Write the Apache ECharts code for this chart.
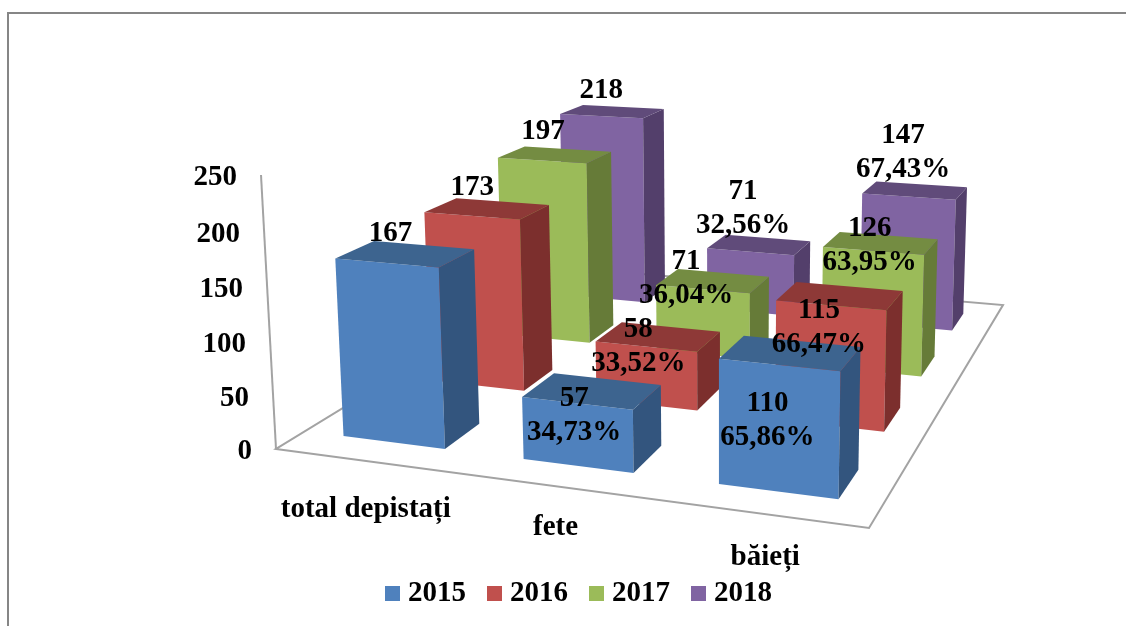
<!DOCTYPE html>
<html>
<head>
<meta charset="utf-8">
<style>
  html, body { margin: 0; padding: 0; background: #fff; }
  #plot { width: 1126px; height: 626px; }
</style>
<script src="https://cdn.jsdelivr.net/npm/echarts@6/dist/echarts.min.js"></script>
</head>
<body>
<div id="plot"></div>
<script>
const categories = ["total depistați", "fete", "băieți"];
const years = ["2015", "2016", "2017", "2018"];
const yTicks = [0, 50, 100, 150, 200, 250];

const values2015 = [167, 57, 110];
const values2016 = [173, 58, 115];
const values2017 = [197, 71, 126];
const values2018 = [218, 71, 147];

const percents2015 = ["", "34,73%", "65,86%"];
const percents2016 = ["", "33,52%", "66,47%"];
const percents2017 = ["", "36,04%", "63,95%"];
const percents2018 = ["", "32,56%", "67,43%"];

const allValues = [values2015, values2016, values2017, values2018];
const allPercents = [percents2015, percents2016, percents2017, percents2018];

// front, top and side colour of each year
const faces = [
  ["#4f81bd", "#3d648f", "#33557e"],
  ["#c0504d", "#8e3937", "#7c2f2d"],
  ["#9bbb59", "#748c42", "#667b38"],
  ["#8064a2", "#604b7a", "#533f6b"]
];

// label centre relative to the centre of the bar top, [year][category]
const labelNudge = [
  [[-15, -20], [-18, 25], [-23, 68]],
  [[-15, -21], [-20, 10], [-21, 32]],
  [[-12, -23], [-27, -2], [-11, 2]],
  [[-11, -21], [-16, -36], [-12, -38]]
];
// category name relative to the floor edge under its cell
const categoryNudge = [[1, 49], [2, 42], [6, 44]];

// the floor and the value axis as seen by the camera
const floorFL = [276, 449], floorFR = [869, 528], floorBR = [1003, 305], floorBL = [572, 268];
const axisTop = [261, 175];
const verticalVanishX = 720;
const startU = 0.222, endU = 0.795, startV = 0.29, endV = 0.7;
const FONT = 'bold 29px "Liberation Serif", "Times New Roman", serif';

function makeProjection() {
  const [x0, y0] = floorFL, [x1, y1] = floorFR, [x2, y2] = floorBR, [x3, y3] = floorBL;
  const dx1 = x1 - x2, dx2 = x3 - x2, sx = x0 - x1 + x2 - x3;
  const dy1 = y1 - y2, dy2 = y3 - y2, sy = y0 - y1 + y2 - y3;
  const den = dx1 * dy2 - dx2 * dy1;
  const g = (sx * dy2 - dx2 * sy) / den;
  const h = (dx1 * sy - sx * dy1) / den;
  const a = x1 - x0 + g * x1, b = x3 - x0 + h * x3;
  const d = y1 - y0 + g * y1, e = y3 - y0 + h * y3;
  const k = (x0 - axisTop[0]) / (verticalVanishX - axisTop[0]);
  const vy = (y0 - axisTop[1] * (1 - k)) / k;
  // u along the categories, v into the depth, t is the share of the axis height
  return function (u, v, t) {
    const w = g * u + h * v + 1 - t * k;
    return [
      (a * u + b * v + x0 - t * k * verticalVanishX) / w,
      (d * u + e * v + y0 - t * k * vy) / w
    ];
  };
}
const project = makeProjection();

function heightShare(api, value) {
  const bottom = api.coord([0, 0])[1];
  const top = api.coord([0, yTicks[yTicks.length - 1]])[1];
  return (bottom - api.coord([0, value])[1]) / (bottom - top);
}

function renderBar(yearIndex, params, api) {
  const cat = api.value(0);
  const value = api.value(1);
  const t = heightShare(api, value);
  const u0 = (cat + startU) / categories.length, u1 = (cat + endU) / categories.length;
  const v0 = (yearIndex + startV) / years.length, v1 = (yearIndex + endV) / years.length;

  const fb0 = project(u0, v0, 0), fb1 = project(u1, v0, 0), bb1 = project(u1, v1, 0);
  const ft0 = project(u0, v0, t), ft1 = project(u1, v0, t), bt1 = project(u1, v1, t), bt0 = project(u0, v1, t);
  const [front, top, side] = faces[yearIndex];
  const centre = project((u0 + u1) / 2, (v0 + v1) / 2, t);
  const nudge = labelNudge[yearIndex][cat];
  const percent = allPercents[yearIndex][cat];

  return {
    type: "group",
    children: [
      { type: "polygon", shape: { points: [fb0, fb1, ft1, ft0] }, style: { fill: front } },
      { type: "polygon", shape: { points: [fb1, bb1, bt1, ft1] }, style: { fill: side } },
      { type: "polygon", shape: { points: [ft0, ft1, bt1, bt0] }, style: { fill: top } },
      {
        type: "text",
        z2: 100,
        x: centre[0] + nudge[0],
        y: centre[1] + nudge[1],
        style: {
          text: percent ? value + "\n" + percent : String(value),
          font: FONT,
          fill: "#000",
          align: "center",
          verticalAlign: "middle",
          lineHeight: 34
        }
      }
    ]
  };
}

// floor, tilted value axis and its labels, category names
function renderFrame(params, api) {
  if (params.dataIndex > 0) return null;
  const lineStyle = { stroke: "#a3a3a3", lineWidth: 2, fill: "#fff" };
  const children = [
    { type: "polygon", shape: { points: [floorFL, floorFR, floorBR, floorBL] }, style: lineStyle },
    { type: "line", shape: { x1: floorFL[0], y1: floorFL[1], x2: axisTop[0], y2: axisTop[1] }, style: { stroke: "#a3a3a3", lineWidth: 2 } }
  ];
  yTicks.forEach(function (tick) {
    const p = project(0, 0, heightShare(api, tick));
    children.push({
      type: "text",
      x: p[0] - 24,
      y: p[1] + 3,
      style: { text: String(tick), font: FONT, fill: "#000", align: "right", verticalAlign: "middle" }
    });
  });
  categories.forEach(function (name, i) {
    const p = project((i + 0.5) / categories.length, 0, 0);
    children.push({
      type: "text",
      x: p[0] + categoryNudge[i][0],
      y: p[1] + categoryNudge[i][1],
      style: { text: name, font: FONT, fill: "#000", align: "center", verticalAlign: "middle" }
    });
  });
  return { type: "group", children: children };
}

const barSeries = years.map(function (year, i) {
  return {
    name: year,
    type: "custom",
    coordinateSystem: "cartesian2d",
    itemStyle: { color: faces[i][0] },
    renderItem: function (params, api) { return renderBar(i, params, api); },
    data: allValues[i].map(function (v, c) { return [c, v]; })
  };
}).reverse();

const chart = echarts.init(document.getElementById("plot"), null, { renderer: "canvas" });
chart.setOption({
  animation: false,
  backgroundColor: "#fff",
  grid: { left: axisTop[0], top: axisTop[1], height: floorFL[1] - axisTop[1], width: 700 },
  xAxis: { type: "category", data: categories, show: false },
  yAxis: { type: "value", min: 0, max: 250, interval: 50, show: false },
  legend: {
    data: years,
    left: 385,
    top: 579,
    padding: 0,
    icon: "rect",
    itemWidth: 15,
    itemHeight: 15,
    itemGap: 21,
    textStyle: { fontFamily: '"Liberation Serif", "Times New Roman", serif', fontWeight: "bold", fontSize: 29, color: "#000", padding: [0, 0, 0, 3] }
  },
  graphic: [{
    type: "polyline",
    shape: { points: [[8, 626], [8, 13], [1126, 13]] },
    style: { stroke: "#868686", lineWidth: 2, fill: null },
    silent: true
  }],
  series: [{
    type: "custom",
    name: "frame",
    coordinateSystem: "cartesian2d",
    renderItem: renderFrame,
    data: [[0, 0]],
    silent: true
  }].concat(barSeries)
});
</script>
</body>
</html>
